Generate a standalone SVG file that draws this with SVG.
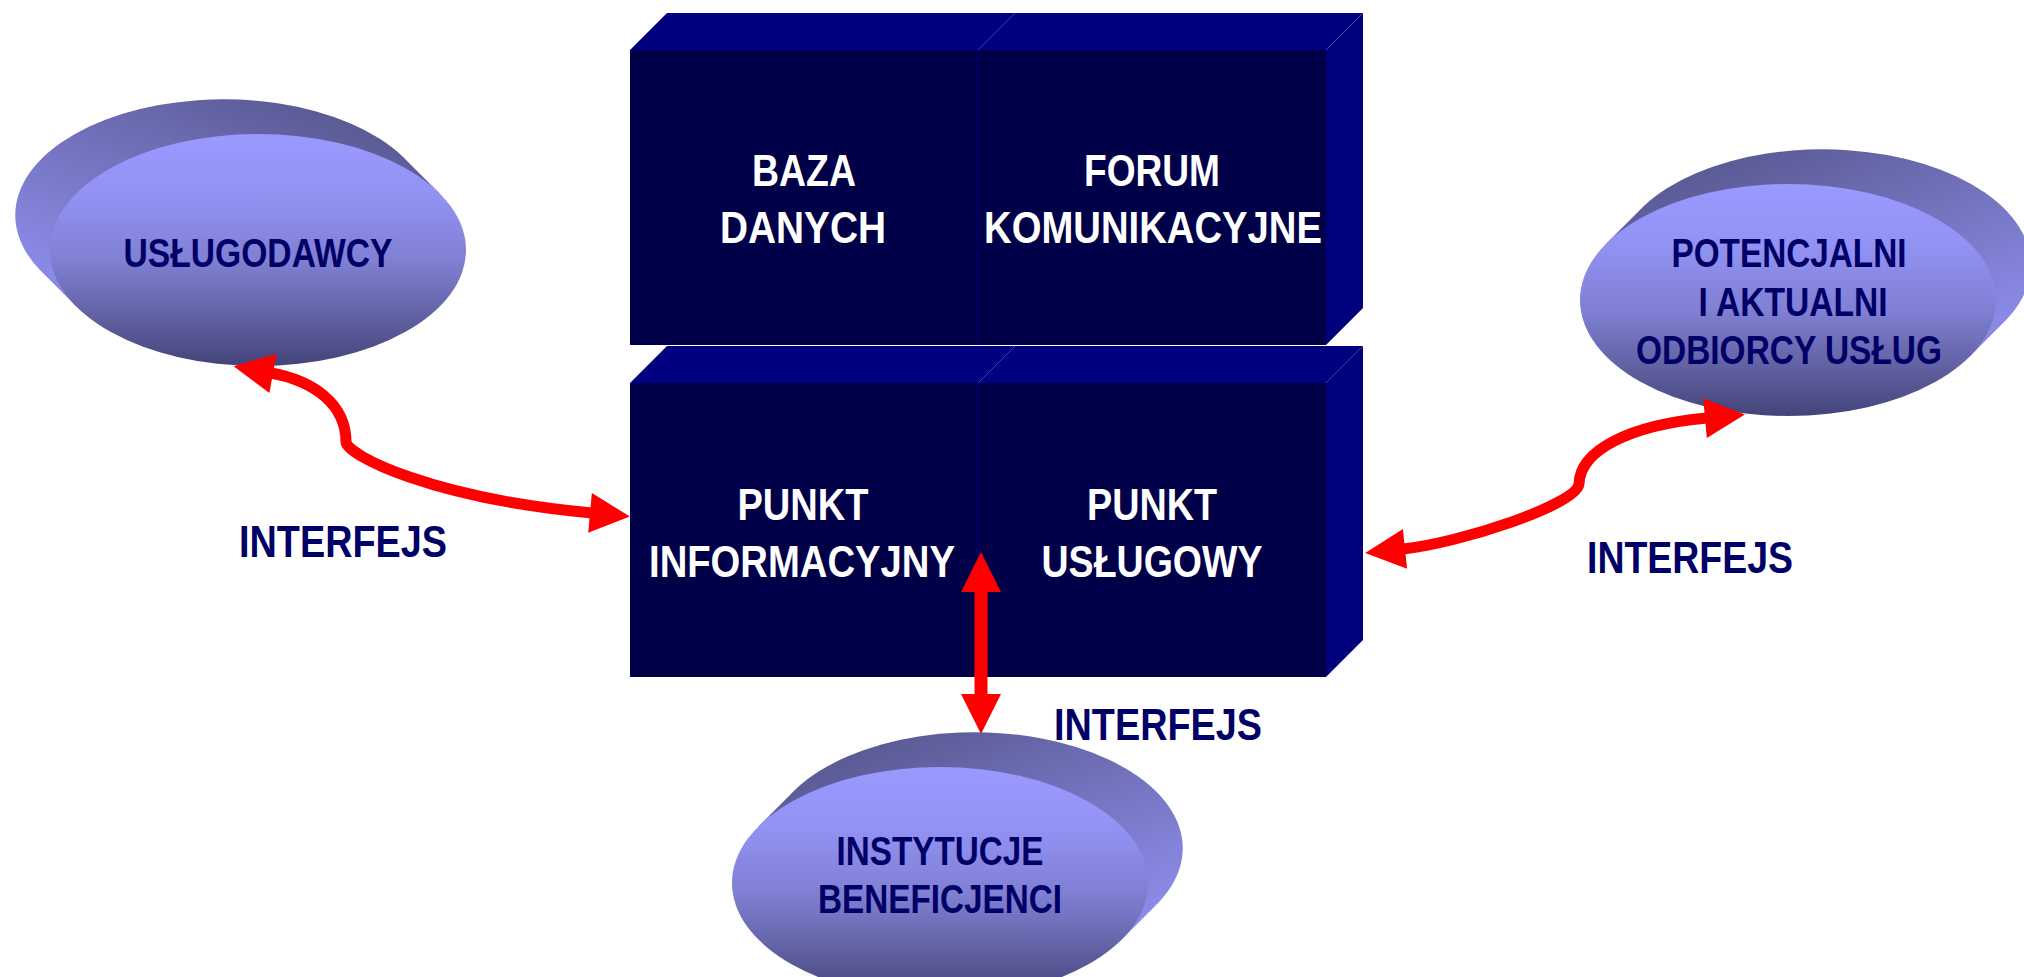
<svg xmlns="http://www.w3.org/2000/svg" width="2024" height="977" viewBox="0 0 2024 977">
  <defs>
    <linearGradient id="front" x1="0" y1="0" x2="0" y2="1">
      <stop offset="0" stop-color="#9999FF"/>
      <stop offset="0.25" stop-color="#9393F5"/>
      <stop offset="0.55" stop-color="#7F7FD3"/>
      <stop offset="0.8" stop-color="#5F5FA0"/>
      <stop offset="1" stop-color="#44447A"/>
    </linearGradient>
    <linearGradient id="sideL" x1="0.65" y1="0" x2="0" y2="0.75">
      <stop offset="0" stop-color="#5B5B96"/>
      <stop offset="1" stop-color="#8A8AE6"/>
    </linearGradient>
    <linearGradient id="sideR" x1="0.35" y1="0" x2="1" y2="0.75">
      <stop offset="0" stop-color="#5B5B96"/>
      <stop offset="1" stop-color="#8A8AE6"/>
    </linearGradient>
    <marker id="head" viewBox="0 -20 40 40" refX="2" refY="0" markerWidth="40" markerHeight="40" markerUnits="userSpaceOnUse" orient="auto-start-reverse" overflow="visible">
      <path d="M0,-20 L40,0 L0,20 Z" fill="#FF0000"/>
    </marker>
    <style>
      .face{fill:#000048}
      .top{fill:#000080}
      .side{fill:#00007C}
      .div{stroke:#00006C;stroke-width:2}
      .bt{font-family:"Liberation Sans",Arial,sans-serif;font-weight:bold;font-size:44px;fill:#FFFFFF;text-anchor:middle}
      .et{font-family:"Liberation Sans",Arial,sans-serif;font-weight:bold;font-size:40px;fill:#000066;text-anchor:middle}
      .lt{font-family:"Liberation Sans",Arial,sans-serif;font-weight:bold;font-size:45px;fill:#000066;text-anchor:middle}
      .arr{fill:none;stroke:#FF0000;stroke-width:11;marker-start:url(#head);marker-end:url(#head)}
    </style>
  </defs>
  <rect width="2024" height="977" fill="#FFFFFF"/>

  <g id="node-baza">
    <polygon class="top" points="630,50 667,13 1015,13 978,50"/>
    <rect class="face" x="630" y="50" width="348" height="295"/>
    <text class="bt" x="804" y="186" textLength="104" lengthAdjust="spacingAndGlyphs">BAZA</text>
    <text class="bt" x="803" y="243" textLength="166" lengthAdjust="spacingAndGlyphs">DANYCH</text>
  </g>
  <g id="node-forum">
    <polygon class="top" points="978,50 1015,13 1363,13 1326,50"/>
    <polygon class="side" points="1326,50 1363,13 1363,308 1326,345"/>
    <rect class="face" x="978" y="50" width="348" height="295"/>
    <line class="div" x1="978" y1="50" x2="978" y2="345"/>
    <text class="bt" x="1152" y="186" textLength="136" lengthAdjust="spacingAndGlyphs">FORUM</text>
    <text class="bt" x="1153" y="243" textLength="338" lengthAdjust="spacingAndGlyphs">KOMUNIKACYJNE</text>
  </g>
  <g id="node-punkt-informacyjny">
    <polygon class="top" points="630,383 667,346 1015,346 978,383"/>
    <rect class="face" x="630" y="383" width="348" height="294"/>
    <text class="bt" x="803" y="520" textLength="131" lengthAdjust="spacingAndGlyphs">PUNKT</text>
    <text class="bt" x="802" y="577" textLength="306" lengthAdjust="spacingAndGlyphs">INFORMACYJNY</text>
  </g>
  <g id="node-punkt-uslugowy">
    <polygon class="top" points="978,383 1015,346 1363,346 1326,383"/>
    <polygon class="side" points="1326,383 1363,346 1363,640 1326,677"/>
    <rect class="face" x="978" y="383" width="348" height="294"/>
    <line class="div" x1="978" y1="383" x2="978" y2="677"/>
    <text class="bt" x="1152" y="520" textLength="130" lengthAdjust="spacingAndGlyphs">PUNKT</text>
    <text class="bt" x="1152" y="577" textLength="221" lengthAdjust="spacingAndGlyphs">USŁUGOWY</text>
  </g>

  <g id="node-uslugodawcy">
    <path fill="url(#sideL)" d="M439.6,193.5 L402.6,156.5 A208,116 0 0 0 39.4,269.5 L76.4,306.5 Z"/>
    <ellipse fill="url(#front)" cx="258" cy="250" rx="208" ry="116"/>
    <text class="et" x="258" y="267" textLength="269" lengthAdjust="spacingAndGlyphs">USŁUGODAWCY</text>
  </g>
  <g id="node-odbiorcy">
    <path fill="url(#sideR)" d="M1606.4,243.5 L1643.4,206.5 A208,116 0 0 1 2006.6,319.5 L1969.6,356.5 Z"/>
    <ellipse fill="url(#front)" cx="1788" cy="300" rx="208" ry="116"/>
    <text class="et" x="1789" y="267" textLength="235" lengthAdjust="spacingAndGlyphs">POTENCJALNI</text>
    <text class="et" x="1793" y="316" textLength="189" lengthAdjust="spacingAndGlyphs">I AKTUALNI</text>
    <text class="et" x="1789" y="364" textLength="306" lengthAdjust="spacingAndGlyphs">ODBIORCY USŁUG</text>
  </g>
  <g id="node-instytucje">
    <path fill="url(#sideR)" d="M758.4,826.5 L795.4,789.5 A208,116 0 0 1 1158.6,902.5 L1121.6,939.5 Z"/>
    <ellipse fill="url(#front)" cx="940" cy="883" rx="208" ry="116"/>
    <text class="et" x="940" y="865" textLength="207" lengthAdjust="spacingAndGlyphs">INSTYTUCJE</text>
    <text class="et" x="940" y="913" textLength="244" lengthAdjust="spacingAndGlyphs">BENEFICJENCI</text>
  </g>

  <g id="connectors">
    <path class="arr" d="M271,373 C315,381 346,405 346,442 C347,455 430,498 592,513"/>
    <path class="arr" d="M1403,549 C1460,543 1576,505 1579,484 C1580,450 1630,425 1707,418"/>
    <path class="arr" style="stroke-width:13" d="M981,590 L981,696"/>
    <text class="lt" x="343" y="557" textLength="208" lengthAdjust="spacingAndGlyphs">INTERFEJS</text>
    <text class="lt" x="1690" y="573" textLength="206" lengthAdjust="spacingAndGlyphs">INTERFEJS</text>
    <text class="lt" x="1158" y="740" textLength="208" lengthAdjust="spacingAndGlyphs">INTERFEJS</text>
  </g>
</svg>
